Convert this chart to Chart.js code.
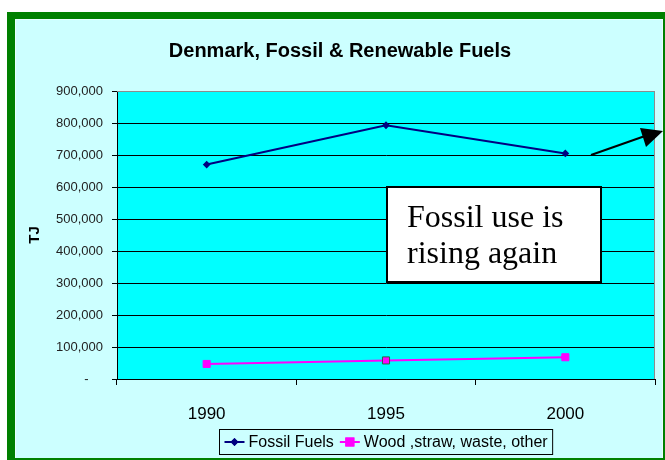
<!DOCTYPE html>
<html>
<head>
<meta charset="utf-8">
<script src="https://cdn.jsdelivr.net/npm/chart.js@4"></script>
<style>
  html, body { margin: 0; padding: 0; background: #fff; }
  #wrap { width: 665px; height: 460px; }
</style>
</head>
<body>
<div id="wrap"><canvas id="myChart" width="665" height="460"></canvas></div>
<script>
const years = ['1990', '1995', '2000'];
const fossilFuels = [670000, 793000, 705000];
const woodStrawWaste = [47000, 58000, 68000];
const yTicks = [0, 100000, 200000, 300000, 400000, 500000, 600000, 700000, 800000, 900000];

const FONT = '"Liberation Sans", Arial, sans-serif';

// frame, plot background, top/right plot border
const background = {
  id: 'background',
  beforeDraw(chart) {
    const ctx = chart.ctx;
    const a = chart.chartArea;
    ctx.save();
    ctx.fillStyle = '#ffffff';
    ctx.fillRect(0, 0, chart.width, chart.height);
    ctx.fillStyle = '#008000';
    ctx.fillRect(7, 12, chart.width - 7, chart.height - 12);
    ctx.fillStyle = '#e8ffff';
    ctx.fillRect(15, 19, chart.width - 17, chart.height - 21);
    ctx.fillStyle = '#ccffff';
    ctx.fillRect(16, 20, chart.width - 19, chart.height - 22);
    ctx.fillStyle = '#00ffff';
    ctx.fillRect(a.left, a.top, a.right - a.left, a.bottom - a.top);
    ctx.restore();
  },
  afterDatasetsDraw(chart) {
    const ctx = chart.ctx;
    const a = chart.chartArea;
    ctx.save();
    ctx.strokeStyle = '#8c8c8c';
    ctx.lineWidth = 1;
    ctx.beginPath();
    ctx.moveTo(a.left, a.top + 0.5);
    ctx.lineTo(a.right - 0.5, a.top + 0.5);
    ctx.lineTo(a.right - 0.5, a.bottom);
    ctx.stroke();
    ctx.restore();
  }
};

// legend box with line + marker samples
const legendBox = {
  id: 'legendBox',
  afterDraw(chart) {
    const ctx = chart.ctx;
    ctx.save();
    ctx.font = '16px ' + FONT;
    ctx.textBaseline = 'middle';
    const sample = 20;
    const items = chart.data.datasets.map(ds => ({ ds, w: ctx.measureText(ds.label).width }));
    let total = 0;
    items.forEach(it => { total += sample + 4 + it.w; });
    total += 6 * (items.length - 1);
    const boxW = total + 10;
    const boxH = 25;
    const bx = Math.round(386 - boxW / 2) + 0.5;
    const by = 429.5;
    ctx.fillStyle = '#ccffff';
    ctx.fillRect(bx, by, boxW, boxH);
    ctx.strokeStyle = '#000';
    ctx.lineWidth = 1;
    ctx.strokeRect(bx, by, boxW, boxH);
    let x = bx + 5;
    const cy = by + boxH / 2;
    items.forEach(it => {
      const ds = it.ds;
      ctx.strokeStyle = ds.borderColor;
      ctx.lineWidth = 2;
      ctx.beginPath();
      ctx.moveTo(x, cy);
      ctx.lineTo(x + sample, cy);
      ctx.stroke();
      Chart.helpers.drawPoint(ctx, {
        pointStyle: ds.pointStyle,
        radius: ds.pointRadius,
        borderWidth: 1
      }, x + sample / 2, cy);
      ctx.fillStyle = ds.pointBackgroundColor;
      ctx.strokeStyle = ds.borderColor;
      ctx.fill();
      ctx.stroke();
      ctx.fillStyle = '#000';
      ctx.fillText(ds.label, x + sample + 4, cy + 1);
      x += sample + 4 + it.w + 6;
    });
    ctx.restore();
  }
};

// callout text box and arrow
const callout = {
  id: 'callout',
  afterDraw(chart) {
    const ctx = chart.ctx;
    ctx.save();
    ctx.fillStyle = '#ffffff';
    ctx.fillRect(386, 186, 216, 97);
    ctx.strokeStyle = '#000';
    ctx.lineWidth = 2;
    ctx.strokeRect(387, 187, 214, 95);
    ctx.fillStyle = '#000';
    ctx.font = '32px "Liberation Serif", "Times New Roman", serif';
    ctx.textBaseline = 'alphabetic';
    ctx.fillText('Fossil use is', 407, 227);
    ctx.fillText('rising again', 407, 263);

    ctx.strokeStyle = '#000';
    ctx.lineWidth = 2;
    ctx.beginPath();
    ctx.moveTo(591, 155);
    ctx.lineTo(645, 136);
    ctx.stroke();
    ctx.beginPath();
    ctx.moveTo(663, 131);
    ctx.lineTo(640, 128);
    ctx.lineTo(646, 147);
    ctx.closePath();
    ctx.fill();
    ctx.restore();
  }
};

const data = {
  labels: years,
  datasets: [{
    label: 'Fossil Fuels',
    data: fossilFuels,
    borderColor: '#000080',
    backgroundColor: '#000080',
    pointBackgroundColor: '#000080',
    pointBorderColor: '#000080',
    pointStyle: 'rectRot',
    pointRadius: 2.5,
    borderWidth: 2,
    tension: 0
  }, {
    label: 'Wood ,straw, waste, other',
    data: woodStrawWaste,
    borderColor: '#ff00ff',
    backgroundColor: '#ff00ff',
    pointBackgroundColor: '#ff00ff',
    pointBorderColor: ['#ff00ff', '#1f6f3f', '#ff00ff'],
    pointBorderWidth: 1,
    pointStyle: 'rect',
    pointRadius: 5,
    borderWidth: 2,
    tension: 0
  }]
};

const config = {
  type: 'line',
  data: data,
  options: {
    responsive: false,
    animation: false,
    devicePixelRatio: 1,
    layout: { padding: { left: 25, right: 10, top: 20, bottom: 0 } },
    plugins: {
      legend: { display: false },
      tooltip: { enabled: false },
      title: {
        display: true,
        text: 'Denmark, Fossil & Renewable Fuels',
        color: '#000',
        font: { family: FONT, size: 20, weight: 'bold' },
        padding: { top: 19, bottom: 28 }
      }
    },
    scales: {
      x: {
        type: 'category',
        offset: true,
        grid: {
          offset: true,
          drawOnChartArea: false,
          tickLength: 6,
          tickColor: '#000'
        },
        border: { color: '#000', width: 1 },
        ticks: {
          color: '#000',
          padding: 19,
          font: { family: FONT, size: 17 }
        },
        afterFit(scale) { scale.height = 81; }
      },
      y: {
        min: 0,
        max: 900000,
        afterBuildTicks(scale) { scale.ticks = yTicks.map(v => ({ value: v })); },
        grid: {
          color: ctx => (ctx.tick && ctx.tick.value === 900000) ? '#8c8c8c' : '#000',
          tickLength: 5,
          tickColor: '#000'
        },
        border: { color: '#000', width: 1 },
        ticks: {
          color: '#222',
          padding: 9,
          font: { family: FONT, size: 13 },
          callback: v => v === 0 ? '-    ' : v.toLocaleString('en-US')
        },
        title: {
          display: true,
          text: 'TJ',
          color: '#000',
          font: { family: FONT, size: 15, weight: 'bold' },
          padding: { top: 1, bottom: 0 }
        },
        afterFit(scale) { scale.width = 92; }
      }
    }
  },
  plugins: [background, legendBox, callout]
};

const myChart = new Chart(document.getElementById('myChart'), config);
</script>
</body>
</html>
